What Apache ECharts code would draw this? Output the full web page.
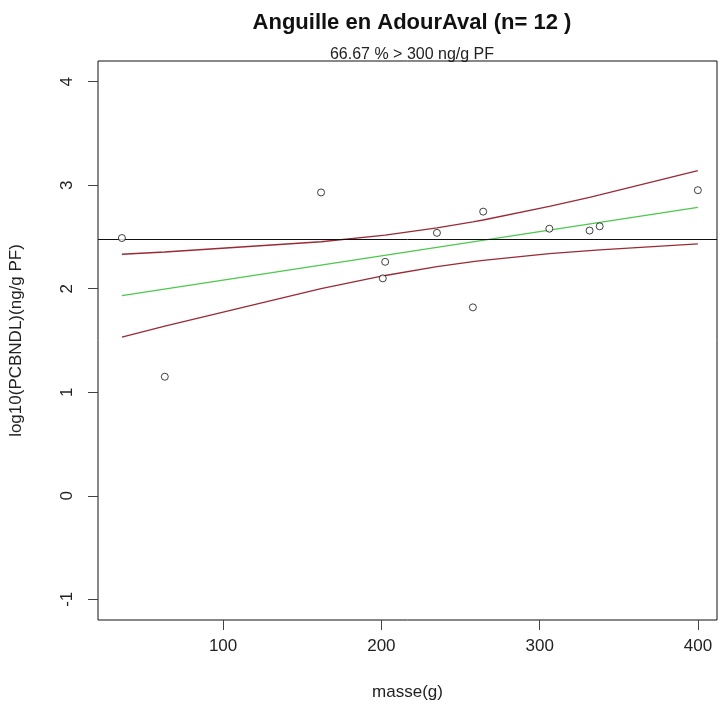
<!DOCTYPE html>
<html>
<head>
<meta charset="utf-8">
<title>Anguille en AdourAval</title>
<script src="https://cdn.jsdelivr.net/npm/echarts@6/dist/echarts.min.js"></script>
<style>
  html, body { margin: 0; padding: 0; background: #ffffff; }
  #chart { width: 720px; height: 710px; }
</style>
</head>
<body>
<div id="chart"></div>
<script>
// Individual eels: body mass (g) and log10 PCB NDL concentration (ng/g PF)
const masse = [36.1, 161.9, 202.4, 200.9, 63.2, 235.1, 264.3, 257.8, 306.1, 331.5, 337.9, 399.9];
const log10PCB = [2.49, 2.93, 2.26, 2.10, 1.15, 2.54, 2.745, 1.82, 2.58, 2.562, 2.603, 2.952];

// Linear fit endpoints
const fitX = [36.1, 399.9];
const fitY = [1.933, 2.787];

// Confidence band, evaluated at the sorted masses
const bandX = [36.1, 63.2, 161.9, 200.9, 202.4, 235.1, 257.8, 264.3, 306.1, 331.5, 337.9, 399.9];
const bandUpper = [2.333, 2.355, 2.454, 2.516, 2.518, 2.587, 2.645, 2.664, 2.795, 2.883, 2.906, 3.140];
const bandLower = [1.533, 1.639, 2.002, 2.124, 2.128, 2.213, 2.261, 2.274, 2.339, 2.369, 2.376, 2.434];

// Regulatory threshold (ng/g PF) and axis ticks
const threshold = 300;
const xTicks = [100, 200, 300, 400];
const yTicks = [-1, 0, 1, 2, 3, 4];

const pairs = (xs, ys) => xs.map((x, i) => [x, ys[i]]);
const font = '"Liberation Sans", Arial, sans-serif';

const chart = echarts.init(document.getElementById('chart'), null, { renderer: 'canvas' });

const gridLeft = 97, gridRight = 3;
const plotCenter = gridLeft + (720 - gridLeft - gridRight) / 2;

chart.setOption({
  animation: false,
  backgroundColor: '#ffffff',
  title: [
    {
      text: 'Anguille en AdourAval (n= ' + masse.length + ' )',
      left: plotCenter, top: 7, textAlign: 'center',
      textStyle: { fontFamily: font, fontSize: 22, fontWeight: 'bold', color: '#111' }
    },
    {
      text: (100 * log10PCB.filter(v => v > Math.log10(threshold)).length / log10PCB.length).toFixed(2) + ' % > ' + threshold + ' ng/g PF',
      left: plotCenter, top: 42, textAlign: 'center',
      textStyle: { fontFamily: font, fontSize: 16, fontWeight: 'normal', color: '#222' }
    }
  ],
  grid: {
    left: gridLeft, right: gridRight, top: 61, bottom: 90,
    show: true, borderColor: '#111', borderWidth: 1, backgroundColor: 'transparent'
  },
  xAxis: {
    type: 'value', min: 21, max: 412,
    name: 'masse(g)', nameLocation: 'middle', nameGap: 64,
    nameTextStyle: { fontFamily: font, fontSize: 17, color: '#222' },
    axisLine: { show: false, onZero: false },
    splitLine: { show: false },
    axisTick: { show: true, length: 10, customValues: xTicks, lineStyle: { color: '#444' } },
    axisLabel: { customValues: xTicks, margin: 18, fontFamily: font, fontSize: 17, color: '#222' }
  },
  yAxis: {
    type: 'value', min: -1.2, max: 4.2,
    name: 'log10(PCBNDL)(ng/g PF)', nameLocation: 'middle', nameGap: 73, nameRotate: 90,
    nameTextStyle: { fontFamily: font, fontSize: 17, color: '#222' },
    axisLine: { show: false, onZero: false },
    splitLine: { show: false },
    axisTick: { show: true, length: 10, customValues: yTicks, lineStyle: { color: '#444' } },
    axisLabel: { customValues: yTicks, rotate: 90, margin: 22, fontFamily: font, fontSize: 17, color: '#222' }
  },
  series: [
    {
      name: 'seuil', type: 'line', data: [], silent: true,
      markLine: {
        silent: true, symbol: 'none', label: { show: false },
        lineStyle: { color: '#111', width: 1, type: 'solid' },
        data: [{ yAxis: Math.log10(threshold) }]
      }
    },
    {
      name: 'IC haut', type: 'line', data: pairs(bandX, bandUpper),
      showSymbol: false, lineStyle: { color: '#9a2a36', width: 1.3 }, z: 3
    },
    {
      name: 'IC bas', type: 'line', data: pairs(bandX, bandLower),
      showSymbol: false, lineStyle: { color: '#9a2a36', width: 1.3 }, z: 3
    },
    {
      name: 'ajustement', type: 'line', data: pairs(fitX, fitY),
      showSymbol: false, lineStyle: { color: '#4cc94c', width: 1.3 }, z: 3
    },
    {
      name: 'individus', type: 'scatter', data: pairs(masse, log10PCB),
      symbol: 'circle', symbolSize: 7,
      itemStyle: { color: '#ffffff', borderColor: '#111', borderWidth: 1 }, z: 5
    }
  ]
});
</script>
</body>
</html>
